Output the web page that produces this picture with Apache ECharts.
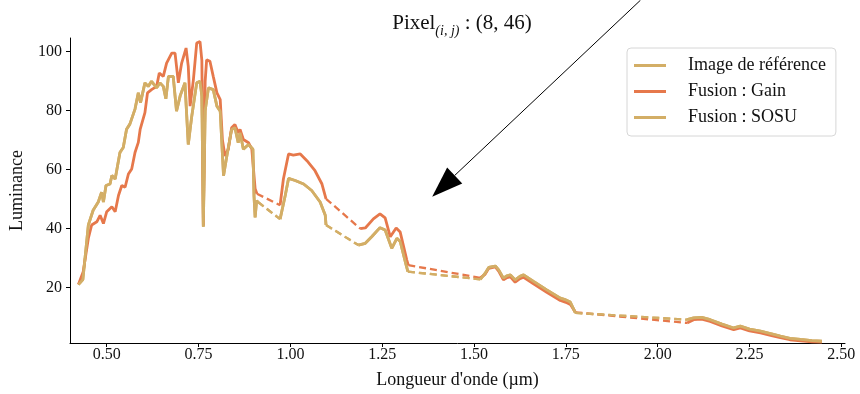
<!DOCTYPE html>
<html>
<head>
<meta charset="utf-8">
<script src="https://cdn.jsdelivr.net/npm/echarts@6/dist/echarts.min.js"></script>
<style>
  html, body { margin: 0; padding: 0; background: #fff; }
  #chart { width: 860px; height: 394px; }
</style>
</head>
<body>
<div id="chart"></div>
<script>
// wavelengths (µm) and luminance; a null marks a gap bridged by a dashed line
const wlRef = [
  0.423, 0.435, 0.450, 0.463, 0.477, 0.486, 0.491, 0.498, 0.509, 0.514, 0.523, 0.536, 0.545, 0.554,
  0.563, 0.577, 0.586, 0.592, 0.604, 0.613, 0.622, 0.636, 0.645, 0.654, 0.661, 0.668, 0.681, 0.686,
  0.690, 0.700, 0.713, 0.722, 0.731, 0.745, 0.754, 0.759, 0.763, 0.768, 0.777, 0.790, 0.800, 0.809,
  0.818, 0.827, 0.840, 0.849, 0.858, 0.863, 0.872, 0.886, 0.898, 0.901, 0.904, 0.908, 0.912,
  null,
  0.972, 0.986, 0.995, 1.013, 1.036, 1.058, 1.081, 1.095, 1.097,
  null,
  1.185, 1.190, 1.204, 1.222, 1.244, 1.258, 1.276, 1.290, 1.299, 1.315, 1.320,
  null,
  1.517, 1.530, 1.540, 1.558, 1.567, 1.580, 1.590, 1.599, 1.612, 1.625, 1.635, 1.662, 1.698, 1.735,
  1.750, 1.762, 1.776,
  null,
  2.080, 2.098, 2.120, 2.143, 2.175, 2.207, 2.225, 2.250, 2.280, 2.310, 2.334, 2.360, 2.389, 2.420, 2.447
];
const lumRef = [
  21.0, 22.7, 41.2, 46.2, 49.0, 52.3, 49.0, 54.6, 55.1, 58.0, 56.8, 65.8, 67.5, 73.7,
  75.4, 80.5, 86.0, 82.7, 89.4, 88.2, 89.9, 87.7, 89.4, 88.2, 84.0, 91.6, 91.6, 91.5,
  79.8, 85.0, 89.4, 68.5, 77.6, 89.4, 89.9, 85.0, 40.6, 80.0, 87.7, 87.1, 81.5, 79.8,
  57.9, 64.6, 73.6, 74.2, 69.1, 72.5, 66.9, 68.5, 66.9, 51.0, 43.8, 49.4, 49.0,
  null,
  43.2, 51.2, 57.0, 56.3, 55.1, 52.9, 49.0, 44.5, 41.2,
  null,
  34.4, 33.8, 35.0, 37.3, 40.3, 39.5, 33.3, 36.7, 35.6, 27.7, 25.4,
  null,
  22.8, 24.8, 26.8, 27.3, 26.0, 23.2, 24.0, 24.3, 22.6, 23.8, 24.3, 22.1, 19.2, 16.4,
  15.8, 15.1, 11.4,
  null,
  9.1, 9.7, 9.9, 9.1, 7.6, 6.3, 6.9, 5.9, 5.2, 4.3, 3.5, 2.8, 2.4, 2.0, 1.8
];
const wlGain = [
  0.423, 0.436, 0.450, 0.459, 0.473, 0.482, 0.491, 0.500, 0.514, 0.523, 0.532, 0.541, 0.550, 0.559,
  0.568, 0.577, 0.586, 0.591, 0.595, 0.604, 0.611, 0.622, 0.636, 0.643, 0.654, 0.659, 0.663, 0.677,
  0.686, 0.695, 0.704, 0.716, 0.722, 0.727, 0.736, 0.745, 0.754, 0.759, 0.763, 0.768, 0.772, 0.781,
  0.790, 0.800, 0.809, 0.815, 0.822, 0.831, 0.840, 0.849, 0.858, 0.863, 0.872, 0.886, 0.895, 0.904, 0.909,
  null,
  0.972, 0.981, 0.995, 1.008, 1.027, 1.045, 1.067, 1.086, 1.097,
  null,
  1.190, 1.204, 1.226, 1.244, 1.258, 1.272, 1.288, 1.299, 1.317, 1.321,
  null,
  1.517, 1.530, 1.540, 1.558, 1.567, 1.580, 1.590, 1.599, 1.612, 1.625, 1.635, 1.662, 1.698, 1.735,
  1.750, 1.762, 1.776,
  null,
  2.080, 2.098, 2.120, 2.143, 2.175, 2.207, 2.225, 2.250, 2.280, 2.310, 2.334, 2.360, 2.389, 2.420, 2.447
];
const lumGain = [
  21.0, 25.4, 36.7, 41.2, 42.3, 44.5, 41.7, 45.7, 47.4, 45.7, 51.2, 54.6, 54.0, 58.5,
  60.2, 65.8, 69.2, 73.6, 73.0, 79.3, 86.0, 87.1, 88.2, 92.7, 91.6, 91.6, 96.1, 99.5,
  99.5, 89.4, 96.1, 101.2, 95.0, 81.5, 90.5, 102.9, 103.4, 97.0, 41.0, 90.0, 97.2, 96.7,
  91.6, 86.0, 83.7, 70.0, 64.6, 66.9, 74.2, 75.3, 72.5, 73.6, 70.2, 69.1, 66.9, 53.5, 51.8,
  null,
  47.9, 56.8, 65.3, 64.9, 65.3, 63.0, 59.6, 55.1, 50.1,
  null,
  40.0, 40.2, 43.3, 45.0, 43.6, 37.2, 40.2, 38.8, 29.3, 27.6,
  null,
  23.3, 24.5, 26.5, 27.0, 25.6, 22.6, 23.4, 23.6, 21.8, 23.0, 23.5, 21.3, 18.4, 15.6,
  15.0, 14.3, 11.6,
  null,
  8.0, 9.1, 9.3, 8.5, 7.0, 5.7, 6.3, 5.3, 4.6, 3.7, 3.0, 2.3, 1.9, 1.6, 1.5
];
// SOSU sits on top of the reference spectrum in the picture
const wlSosu = wlRef;
const lumSosu = lumRef;

const seriesNames = ['Image de référence', 'Fusion : Gain', 'Fusion : SOSU'];
const xTicks = [0.5, 0.75, 1.0, 1.25, 1.5, 1.75, 2.0, 2.25, 2.5];
const yTicks = [20, 40, 60, 80, 100];
const arrowTip = [1.386, 50.8];
const arrowTail = [1.953, 117.4];

const gold = '#D3AE66';
const orange = '#E6784B';
const font = '"Liberation Serif", "DejaVu Serif", serif';

function solid(wl, lum) {
  return wl.map((x, i) => (x === null ? ['-', '-'] : [x, lum[i]]));
}
function bridges(wl, lum) {
  const out = [];
  wl.forEach((x, i) => {
    if (x === null) out.push([wl[i - 1], lum[i - 1]], [wl[i + 1], lum[i + 1]], ['-', '-']);
  });
  return out;
}

const sets = [[wlRef, lumRef, gold], [wlGain, lumGain, orange], [wlSosu, lumSosu, gold]];
const series = [];
sets.forEach(([wl, lum, color], k) => {
  series.push({
    name: seriesNames[k], type: 'line', data: solid(wl, lum),
    symbol: 'none', color: color, z: 2 + k,
    lineStyle: {color: color, width: 2.8}
  });
  series.push({
    name: seriesNames[k] + ' (interp.)', type: 'line', data: bridges(wl, lum),
    symbol: 'none', color: color, z: 2 + k,
    lineStyle: {color: color, width: 2.3, type: [7, 4]}
  });
});

const chart = echarts.init(document.getElementById('chart'));
chart.setOption({
  animation: false,
  title: {
    text: '{a|Pixel}{s|(i, j)}{a| : (8, 46)}',
    left: 457, top: 8, textAlign: 'center',
    textStyle: {
      fontWeight: 'normal',
      rich: {
        a: {fontFamily: font, fontSize: 21, fontWeight: 'normal', color: '#111', lineHeight: 25, verticalAlign: 'top'},
        s: {fontFamily: font, fontSize: 14, fontStyle: 'italic', fontWeight: 'normal', color: '#111', lineHeight: 25, verticalAlign: 'bottom'}
      }
    }
  },
  legend: {
    data: seriesNames,
    orient: 'vertical',
    left: 627, top: 48,
    padding: [8, 10, 9, 7],
    icon: 'rect',
    itemWidth: 32, itemHeight: 3, itemGap: 7,
    textStyle: {fontFamily: font, fontSize: 18, color: '#111', lineHeight: 19, padding: [0, 0, 0, 17]},
    backgroundColor: 'rgba(255,255,255,0.85)',
    borderColor: '#d6d6d6', borderWidth: 1, borderRadius: 4
  },
  grid: {left: 70, right: 15, top: 38, bottom: 48},
  xAxis: {
    type: 'value', min: 0.4, max: 2.51,
    name: "Longueur d'onde (µm)", nameLocation: 'middle', nameGap: 28,
    nameTextStyle: {fontFamily: font, fontSize: 18, color: '#111'},
    axisLine: {lineStyle: {color: '#000', width: 1}},
    axisTick: {customValues: xTicks, length: 4, lineStyle: {color: '#000'}},
    axisLabel: {customValues: xTicks, formatter: v => v.toFixed(2), margin: 4,
      fontFamily: font, fontSize: 16, color: '#111'},
    splitLine: {show: false}
  },
  yAxis: {
    type: 'value', min: 1.2, max: 104.6,
    name: 'Luminance', nameLocation: 'middle', nameGap: 44,
    nameTextStyle: {fontFamily: font, fontSize: 18, color: '#111'},
    axisLine: {show: true, lineStyle: {color: '#000', width: 1}},
    axisTick: {show: true, customValues: yTicks, length: 4, lineStyle: {color: '#000'}},
    axisLabel: {customValues: yTicks, margin: 8, fontFamily: font, fontSize: 16, color: '#111'},
    splitLine: {show: false}
  },
  series: series
});

// annotation arrow
const tip = chart.convertToPixel({gridIndex: 0}, arrowTip);
const tail = chart.convertToPixel({gridIndex: 0}, arrowTail);
const dx = tip[0] - tail[0], dy = tip[1] - tail[1];
const len = Math.sqrt(dx * dx + dy * dy);
const ux = dx / len, uy = dy / len;
const headLen = 31, headHalf = 11;
const bx = tip[0] - ux * headLen, by = tip[1] - uy * headLen;
chart.setOption({
  graphic: [
    {type: 'line', z: 100, shape: {x1: tail[0], y1: tail[1], x2: bx, y2: by},
      style: {stroke: '#000', lineWidth: 1}},
    {type: 'polygon', z: 100, shape: {points: [
      [tip[0], tip[1]],
      [bx - uy * headHalf, by + ux * headHalf],
      [bx + uy * headHalf, by - ux * headHalf]
    ]}, style: {fill: '#000'}}
  ]
});
</script>
</body>
</html>
